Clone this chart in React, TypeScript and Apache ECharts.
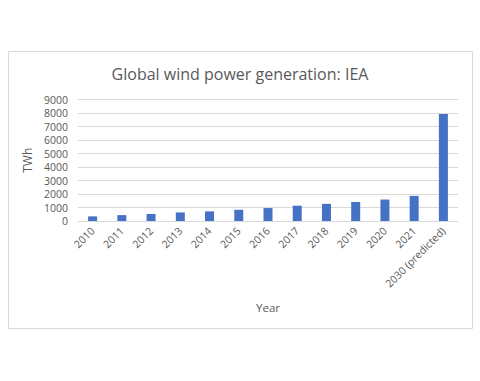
import React, { useEffect, useRef } from "react";
import * as echarts from "echarts";

const categories = ["2010", "2011", "2012", "2013", "2014", "2015", "2016", "2017", "2018", "2019", "2020", "2021", "2030 (predicted)"];
const generationTWh = [342, 437, 522, 635, 712, 831, 960, 1135, 1270, 1410, 1590, 1860, 7920];
const yTicks = { min: 0, max: 9000, interval: 1000 };

export default function App() {
  const ref = useRef<HTMLDivElement>(null);
  useEffect(() => {
    document.body.style.margin = "0";
    const chart = echarts.init(ref.current!, null, { renderer: "svg" });
    const font = "Open Sans";
    chart.setOption({
      animation: false,
      backgroundColor: "#ffffff",
      graphic: [
        {
          type: "rect",
          z: -10,
          shape: { x: 8.5, y: 51.5, width: 464, height: 277 },
          style: { fill: "#ffffff", stroke: "#d9d9d9", lineWidth: 1 },
        },
      ],
      title: {
        text: "Global wind power generation: IEA",
        left: "center",
        top: 61,
        textStyle: { fontFamily: font, fontSize: 16, fontWeight: "normal", color: "#595959" },
      },
      grid: { left: 78, right: 22, top: 99.5, bottom: 160 },
      xAxis: {
        type: "category",
        data: categories,
        name: "Year",
        nameLocation: "middle",
        nameGap: 80,
        nameTextStyle: { fontFamily: font, fontSize: 11.5, color: "#595959" },
        axisLine: { lineStyle: { color: "#d9d9d9" } },
        axisTick: { show: false },
        axisLabel: { rotate: 45, interval: 0, fontFamily: font, fontSize: 10.5, color: "#595959", margin: 8 },
      },
      yAxis: {
        type: "value",
        min: yTicks.min,
        max: yTicks.max,
        interval: yTicks.interval,
        name: "TWh",
        nameLocation: "middle",
        nameGap: 38,
        nameTextStyle: { fontFamily: font, fontSize: 12, color: "#595959" },
        axisLine: { show: false },
        axisTick: { show: false },
        axisLabel: { fontFamily: font, fontSize: 10.5, color: "#595959", margin: 10, formatter: (v: number) => String(v) },
        splitLine: { lineStyle: { color: "#d9d9d9" } },
      },
      series: [
        {
          type: "bar",
          data: generationTWh,
          barWidth: 9,
          itemStyle: { color: "#4472c4" },
        },
      ],
    });
    return () => chart.dispose();
  }, []);
  return <div ref={ref} style={{ width: 480, height: 381 }} />;
}
